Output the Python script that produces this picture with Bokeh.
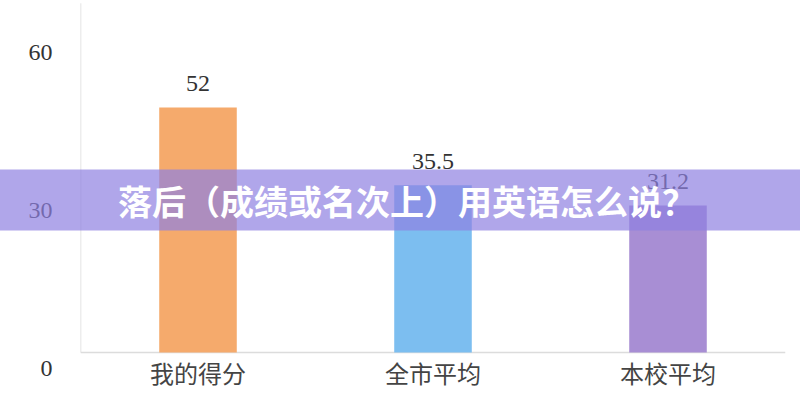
from bokeh.plotting import figure
from bokeh.models import (ColumnDataSource, Range1d, FactorRange, LinearAxis,
                          FixedTicker)
from bokeh.core.properties import value
from bokeh.embed import file_html
from bokeh.resources import INLINE

categories = ["我的得分", "全市平均", "本校平均"]
scores = [52, 35.5, 31.2]
score_labels = ["52", "35.5", "31.2"]
colors = ["#F5AA6C", "#7CBEF0", "#A88ED4"]
y_ticks = [0, 30, 60]
y_tick_labels = ["0", "30", "60"]
banner_text = "落后（成绩或名次上）用英语怎么说？"

src = ColumnDataSource(dict(cat=categories, val=scores, lab=score_labels, col=colors))

p = figure(width=800, height=400, output_backend="svg", toolbar_location=None,
           x_range=FactorRange(*categories, range_padding=0),
           y_range=Range1d(-10.19, 74.7),
           min_border_left=80, min_border_right=15, min_border_top=0, min_border_bottom=0)
p.outline_line_color = None
p.xgrid.visible = False
p.ygrid.visible = False
p.xaxis.visible = False
p.yaxis.visible = False
p.background_fill_color = "white"
p.border_fill_color = "white"

# tick-label axis (labels as placed in the source image)
p.extra_y_ranges = {"lab": Range1d(-6.07, 69.83)}
ax = LinearAxis(y_range_name="lab", ticker=FixedTicker(ticks=y_ticks),
                major_label_overrides={t: s for t, s in zip(y_ticks, y_tick_labels)})
ax.axis_line_color = None
ax.major_tick_line_color = None
ax.minor_tick_line_color = None
ax.major_label_text_font = "Liberation Serif"
ax.major_label_text_font_size = "24px"
ax.major_label_text_color = "#333333"
ax.major_label_standoff = 22
p.add_layout(ax, "left")

# axis lines
p.segment(x0=[(categories[0], -0.5)], y0=[0], x1=[(categories[0], -0.5)], y1=[74.1],
          line_color="#dcdcdc", line_width=1.5)
p.segment(x0=[(categories[0], -0.5)], y0=[0], x1=[(categories[-1], 0.5)], y1=[0],
          line_color="#dcdcdc", line_width=1.5)

p.vbar(x="cat", top="val", bottom=0, width=0.33, source=src,
       fill_color="col", line_color=None)

p.text(x="cat", y="val", text="lab", source=src, y_offset=-24,
       text_align="center", text_baseline="middle",
       text_font=value("Liberation Serif"), text_font_size="24px", text_color="#333333")

p.text(x="cat", y=0, text="cat", source=src, y_offset=20,
       text_align="center", text_baseline="middle",
       text_font=value("Noto Sans CJK SC"), text_font_size="24px", text_color="#444444")

# overlay banner spanning the whole picture
p.quad(left=[(categories[0], -1.5)], right=[(categories[-1], 1.5)],
       bottom=[25.9], top=[38.84], fill_color="#8E80E1", fill_alpha=0.7,
       line_color=None, level="overlay")
p.text(x=[(categories[1], 0)], y=[32.27], text=[banner_text], x_offset=-26,
       text_align="center", text_baseline="middle",
       text_font=value("Noto Sans CJK SC"), text_font_style="bold",
       text_font_size="34px", text_color="white", level="overlay")

open("out.html", "w").write(file_html(p, INLINE))
